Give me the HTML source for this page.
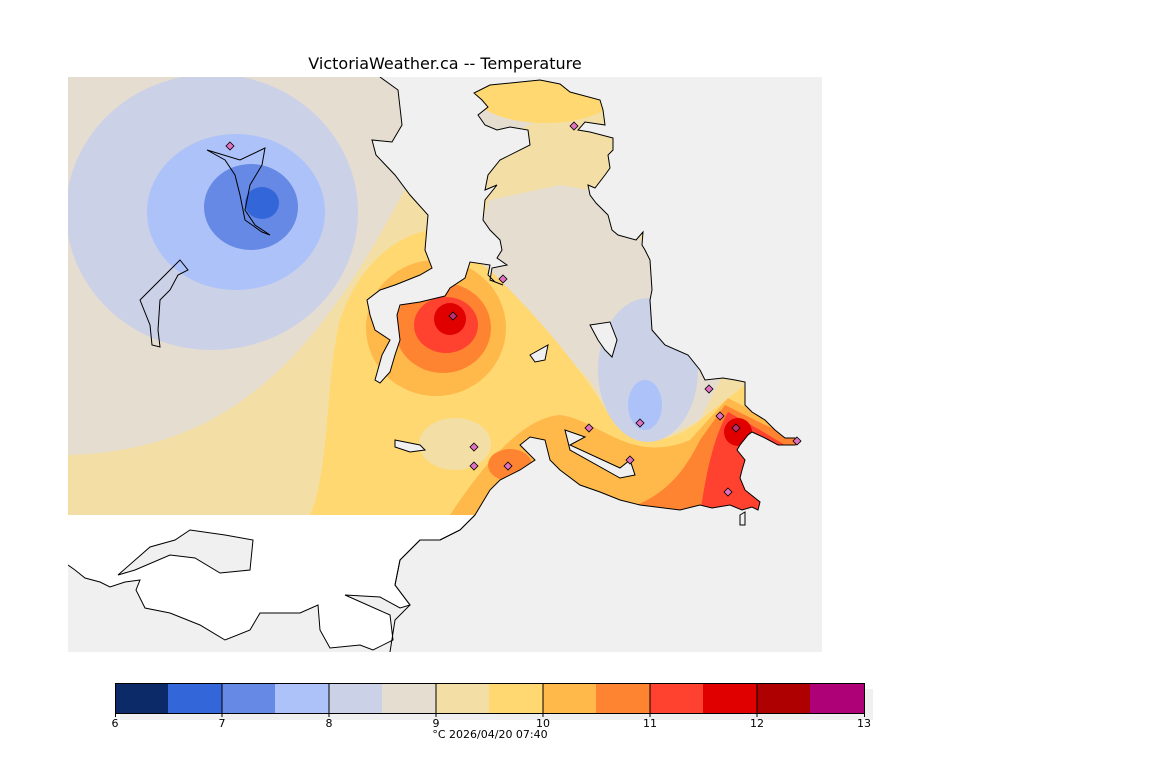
<!DOCTYPE html>
<html><head><meta charset="utf-8"><style>
body{margin:0;background:#fff;width:1152px;height:768px;overflow:hidden;font-family:"DejaVu Sans","Liberation Sans",sans-serif}
</style></head><body>
<svg width="1152" height="768" viewBox="0 0 1152 768" xmlns="http://www.w3.org/2000/svg">
<defs><clipPath id="c"><rect x="68" y="77" width="754" height="438"/></clipPath><clipPath id="m"><rect x="68" y="77" width="754" height="575"/></clipPath></defs>
<text x="445" y="69" text-anchor="middle" font-family="DejaVu Sans, sans-serif" font-size="16" fill="#000">VictoriaWeather.ca -- Temperature</text>
<rect x="68" y="77" width="754" height="575" fill="#f0f0f0"/>
<g clip-path="url(#c)">
<rect x="68" y="77" width="754" height="438" fill="#e6ddd1"/>
<path d="M68,455 C250,450 330,330 410,180 L500,140 L620,77 L822,77 L822,515 L68,515 Z" fill="#f3dfa5"/>
<path d="M490,200 L560,185 L620,195 L650,260 L680,340 L720,380 L700,420 L660,440 L620,430 L590,380 L540,330 L500,290 L470,250 Z" fill="#e6ddd1"/>
<ellipse cx="545" cy="95" rx="70" ry="28" fill="#ffd872"/>
<path d="M310,515 C330,470 325,380 340,320 C360,260 400,235 430,230 L490,270 C520,300 560,340 600,400 C620,440 660,455 700,420 L745,385 L790,430 L790,515 Z" fill="#ffd872"/>
<ellipse cx="455" cy="444" rx="36" ry="26" fill="#f3dfa5"/>
<ellipse cx="436" cy="328" rx="70" ry="68" fill="#ffb84a"/>
<path d="M450,515 C480,470 520,418 560,415 C600,420 630,465 690,440 L728,398 L770,420 L790,440 L790,515 Z" fill="#ffb84a"/>
<ellipse cx="443" cy="328" rx="48" ry="45" fill="#ff8431"/>
<ellipse cx="510" cy="465" rx="22" ry="16" fill="#ff8431"/>
<path d="M610,515 C660,500 680,480 700,440 L725,405 L765,425 L800,440 L780,515 Z" fill="#ff8431"/>
<ellipse cx="446" cy="325" rx="32" ry="28" fill="#ff4130"/>
<path d="M700,515 C705,480 712,440 728,412 L760,430 L785,445 L760,515 Z" fill="#ff4130"/>
<ellipse cx="450" cy="319" rx="16" ry="16" fill="#e00000"/>
<ellipse cx="738" cy="432" rx="14" ry="14" fill="#e00000"/>
<ellipse cx="212" cy="212" rx="146" ry="138" fill="#cbd1e6"/>
<ellipse cx="236" cy="212" rx="89" ry="78" fill="#adc2f8"/>
<ellipse cx="251" cy="207" rx="47" ry="43" fill="#6689e6"/>
<ellipse cx="262" cy="203" rx="17" ry="16" fill="#3366d9"/>
<ellipse cx="648" cy="370" rx="50" ry="72" fill="#cbd1e6"/>
<ellipse cx="645" cy="405" rx="17" ry="25" fill="#adc2f8"/>
</g>
<g clip-path="url(#m)">
<g fill="#f0f0f0" stroke="none">
<path d="M380,70 L830,70 L830,660 L390,660 L390,652 L395,620 L410,605 L395,585 L400,560 L420,540 L440,540 L460,530 L475,515 L490,490 L500,480 L520,470 L535,460 L520,445 L530,437 L545,440 L550,460 L560,470 L580,485 L600,492 L620,500 L640,505 L680,510 L700,505 L712,508 L730,505 L742,510 L752,507 L758,510 L760,502 L745,490 L740,478 L742,470 L745,460 L737,450 L740,445 L748,435 L752,432 L765,438 L778,445 L795,445 L800,442 L795,438 L785,438 L775,430 L765,420 L752,412 L745,405 L745,382 L735,380 L723,378 L705,380 L700,370 L688,355 L665,345 L652,330 L650,300 L652,290 L650,260 L645,250 L642,245 L643,232 L636,240 L618,235 L612,230 L608,215 L596,203 L590,195 L588,185 L595,188 L605,175 L610,168 L608,155 L613,150 L613,138 L590,132 L578,130 L585,122 L605,125 L603,110 L600,100 L570,92 L560,84 L540,80 L490,85 L474,93 L482,100 L488,107 L478,115 L485,125 L497,130 L510,127 L528,130 L530,145 L500,160 L488,175 L485,190 L497,185 L485,200 L483,220 L490,230 L500,240 L502,250 L497,258 L507,265 L492,268 L490,280 L503,285 L495,282 L488,275 L490,265 L470,262 L465,278 L450,288 L445,296 L420,302 L400,305 L397,315 L400,340 L395,355 L390,372 L380,383 L375,380 L382,355 L390,340 L375,330 L370,315 L367,300 L380,290 L395,285 L420,275 L432,268 L425,250 L428,215 L410,195 L395,175 L376,155 L372,140 L392,142 L402,125 L398,90 L380,77 Z"/>
<path d="M60,515 L475,515 L460,530 L440,540 L420,540 L400,560 L395,585 L410,605 L400,608 L380,597 L345,595 L390,615 L393,640 L373,650 L360,645 L330,648 L320,630 L318,605 L300,613 L260,613 L250,630 L225,640 L200,625 L170,613 L145,608 L136,590 L140,580 L125,582 L110,587 L100,582 L85,578 L75,570 L68,565 L60,560 Z" fill="#fff"/>
</g>
<g fill="none" stroke="#000" stroke-width="1">
<path d="M390,652 L395,620 L410,605 L395,585 L400,560 L420,540 L440,540 L460,530 L475,515 L490,490 L500,480 L520,470 L535,460 L520,445 L530,437 L545,440 L550,460 L560,470 L580,485 L600,492 L620,500 L640,505 L680,510 L700,505 L712,508 L730,505 L742,510 L752,507 L758,510 L760,502 L745,490 L740,478 L742,470 L745,460 L737,450 L740,445 L748,435 L752,432 L765,438 L778,445 L795,445 L800,442 L795,438 L785,438 L775,430 L765,420 L752,412 L745,405 L745,382 L735,380 L723,378 L705,380 L700,370 L688,355 L665,345 L652,330 L650,300 L652,290 L650,260 L645,250 L642,245 L643,232 L636,240 L618,235 L612,230 L608,215 L596,203 L590,195 L588,185 L595,188 L605,175 L610,168 L608,155 L613,150 L613,138 L590,132 L578,130 L585,122 L605,125 L603,110 L600,100 L570,92 L560,84 L540,80 L490,85 L474,93 L482,100 L488,107 L478,115 L485,125 L497,130 L510,127 L528,130 L530,145 L500,160 L488,175 L485,190 L497,185 L485,200 L483,220 L490,230 L500,240 L502,250 L497,258 L507,265 L492,268 L490,280 L503,285 L495,282 L488,275 L490,265 L470,262 L465,278 L450,288 L445,296 L420,302 L400,305 L397,315 L400,340 L395,355 L390,372 L380,383 L375,380 L382,355 L390,340 L375,330 L370,315 L367,300 L380,290 L395,285 L420,275 L432,268 L425,250 L428,215 L410,195 L395,175 L376,155 L372,140 L392,142 L402,125 L398,90 L380,77"/>
<path d="M475,515 L460,530 L440,540 L420,540 L400,560 L395,585 L410,605 L400,608 L380,597 L345,595 L390,615 L393,640 L373,650 L360,645 L330,648 L320,630 L318,605 L300,613 L260,613 L250,630 L225,640 L200,625 L170,613 L145,608 L136,590 L140,580 L125,582 L110,587 L100,582 L85,578 L75,570 L68,565"/>
<path d="M118,575 L150,547 L175,540 L190,530 L225,535 L253,540 L250,570 L220,573 L195,558 L170,555 L135,570 Z" fill="#f0f0f0"/>
<path d="M207,150 L240,160 L265,148 L262,165 L250,185 L245,210 L255,225 L270,235 L262,232 L245,220 L240,195 L235,175 L225,160 Z"/>
<path d="M180,260 L188,270 L178,275 L170,290 L160,300 L158,330 L160,347 L152,345 L150,325 L140,300 L150,290 L165,275 Z"/>
<path d="M395,440 L420,445 L425,450 L410,452 L395,447 Z" fill="#f0f0f0"/>
<path d="M590,325 L610,322 L617,340 L612,357 L605,350 L598,340 Z" fill="#f0f0f0"/>
<path d="M530,355 L548,345 L545,360 L535,362 Z" fill="#f0f0f0"/>
<path d="M565,430 L585,437 L570,445 L620,468 L630,460 L635,475 L620,478 L570,450 Z" fill="#f0f0f0"/>
<path d="M740,515 L745,512 L745,525 L740,525 Z" fill="#f0f0f0"/>
</g>
</g>
<g fill="#e070c0" stroke="#000" stroke-width="0.8">
<path d="M230,142 l4,4 -4,4 -4,-4z"/><path d="M574,122 l4,4 -4,4 -4,-4z"/><path d="M503,275 l4,4 -4,4 -4,-4z"/><path d="M453,312 l4,4 -4,4 -4,-4z" fill="#c03070"/><path d="M709,385 l4,4 -4,4 -4,-4z"/><path d="M640,419 l4,4 -4,4 -4,-4z"/><path d="M720,412 l4,4 -4,4 -4,-4z"/><path d="M736,424 l4,4 -4,4 -4,-4z" fill="#c03070"/><path d="M589,424 l4,4 -4,4 -4,-4z"/><path d="M474,443 l4,4 -4,4 -4,-4z"/><path d="M474,462 l4,4 -4,4 -4,-4z"/><path d="M508,462 l4,4 -4,4 -4,-4z"/><path d="M728,488 l4,4 -4,4 -4,-4z"/><path d="M797,437 l4,4 -4,4 -4,-4z"/><path d="M630,456 l4,4 -4,4 -4,-4z"/>
</g>
<rect x="120" y="689" width="753" height="31" fill="#f0f0f0"/>
<g stroke="none">
<rect x="115" y="683" width="54" height="30" fill="#0c2a68"/><rect x="168" y="683" width="54" height="30" fill="#3366d9"/><rect x="222" y="683" width="54" height="30" fill="#6689e6"/><rect x="275" y="683" width="54" height="30" fill="#adc2f8"/><rect x="329" y="683" width="54" height="30" fill="#cbd1e6"/><rect x="382" y="683" width="54" height="30" fill="#e6ddd1"/><rect x="436" y="683" width="54" height="30" fill="#f3dfa5"/><rect x="489" y="683" width="54" height="30" fill="#ffd872"/><rect x="543" y="683" width="54" height="30" fill="#ffb84a"/><rect x="596" y="683" width="54" height="30" fill="#ff8431"/><rect x="650" y="683" width="54" height="30" fill="#ff4130"/><rect x="703" y="683" width="54" height="30" fill="#e00000"/><rect x="757" y="683" width="54" height="30" fill="#ae0000"/><rect x="810" y="683" width="54" height="30" fill="#ae0077"/>
</g>
<rect x="115.5" y="683.5" width="749" height="30" fill="none" stroke="#000"/>
<g stroke="#000"><line x1="222" y1="683" x2="222" y2="717"/><line x1="329" y1="683" x2="329" y2="717"/><line x1="436" y1="683" x2="436" y2="717"/><line x1="543" y1="683" x2="543" y2="717"/><line x1="650" y1="683" x2="650" y2="717"/><line x1="757" y1="683" x2="757" y2="717"/><line x1="115.5" y1="713" x2="115.5" y2="717"/><line x1="864.5" y1="713" x2="864.5" y2="717"/></g>
<g font-size="11" text-anchor="middle" fill="#000">
<text x="115" y="727">6</text><text x="222" y="727">7</text><text x="329" y="727">8</text><text x="436" y="727">9</text><text x="543" y="727">10</text><text x="650" y="727">11</text><text x="757" y="727">12</text><text x="864" y="727">13</text>
<text x="490" y="738">°C  2026/04/20 07:40</text>
</g>
</svg>
</body></html>
